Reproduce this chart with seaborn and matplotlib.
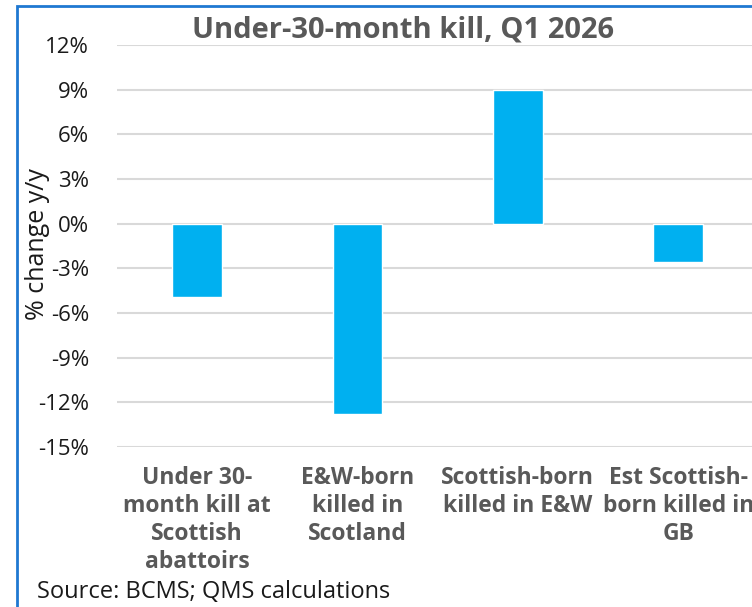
import matplotlib
matplotlib.use("Agg")
import matplotlib.pyplot as plt
import seaborn as sns
import pandas as pd
from matplotlib.patches import Rectangle
from matplotlib.ticker import FuncFormatter

# Datos
categorias = [
    "Under 30-\nmonth kill at\nScottish\nabattoirs",
    "E&W-born\nkilled in\nScotland",
    "Scottish-born\nkilled in E&W",
    "Est Scottish-\nborn killed in\nGB",
]
cambio_yy = [-4.9, -12.8, 9.0, -2.6]
ticks_y = [12, 9, 6, 3, 0, -3, -6, -9, -12, -15]

df = pd.DataFrame({"categoria": categorias, "cambio": cambio_yy})

sns.set_theme(style="white")
plt.rcParams["font.family"] = ["Open Sans", "DejaVu Sans"]

gris = "#595959"
fig = plt.figure(figsize=(7.52, 6.07), dpi=100)
ax = fig.add_axes([117 / 752, 1 - 447 / 607, (758.5 - 117) / 752, (447 - 45) / 607])

sns.barplot(data=df, x="categoria", y="cambio", color="#00B0F0", width=0.31,
            saturation=1, ax=ax, zorder=3)

ax.set_ylim(-15, 12)
ax.set_xlim(-0.5, 3.5)
ax.set_yticks(ticks_y)
ax.yaxis.set_major_formatter(FuncFormatter(lambda v, p: f"{int(v)}%"))
ax.grid(axis="y", color="#D9D9D9", linewidth=1.5, zorder=0)
ax.tick_params(axis="y", labelsize=16, labelcolor="#1a1a1a", length=0, pad=20)
ax.tick_params(axis="x", labelsize=16.5, labelcolor=gris, length=0, pad=14)
for lbl in ax.get_xticklabels():
    lbl.set_fontweight("bold")
    lbl.set_linespacing(1.22)
    lbl.set_verticalalignment("top")
for s in ax.spines.values():
    s.set_visible(False)

ax.set_xlabel("")
ax.set_ylabel("% change y/y", fontsize=18, color="#1a1a1a")
ax.yaxis.set_label_coords(-0.104, 0.505)

fig.text(403 / 752, 1 - 30 / 607, "Under-30-month kill, Q1 2026", ha="center", va="center",
         fontsize=21, fontweight="bold", color=gris)
fig.text(37 / 752, 1 - 592 / 607, "Source: BCMS; QMS calculations", ha="left", va="center",
         fontsize=17, color="#1a1a1a")

# Marco azul del gráfico (recortado a la derecha y abajo)
fig.patches.append(Rectangle((16.5 / 752, -0.1), 1.2, 1 - 5.5 / 607 + 0.1,
                             transform=fig.transFigure, fill=False,
                             edgecolor="#1F78D1", linewidth=2))

fig.savefig("out.png", dpi=100)
plt.close(fig)
